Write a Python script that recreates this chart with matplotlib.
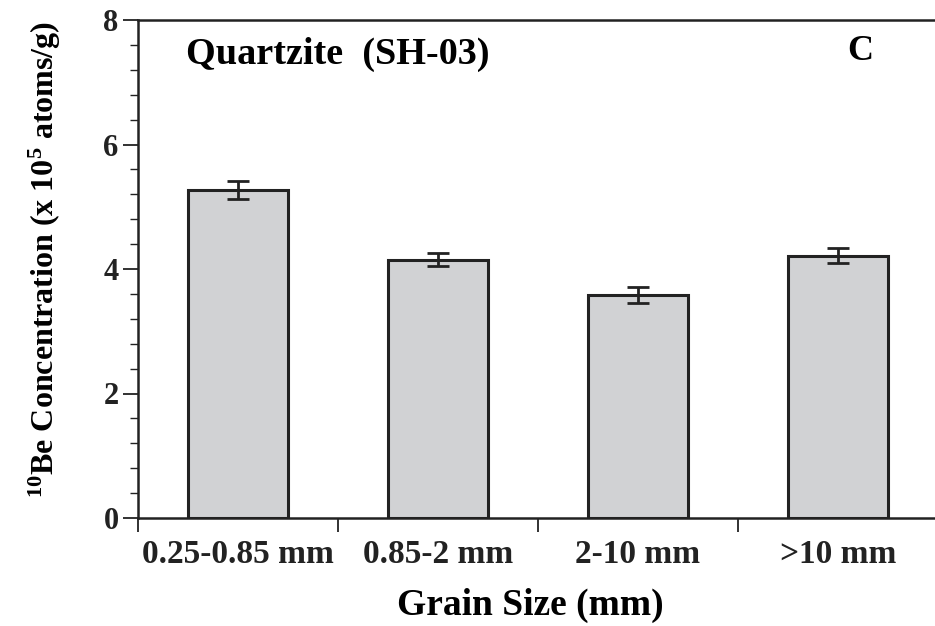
import matplotlib
matplotlib.use("Agg")
import matplotlib.pyplot as plt
from matplotlib.ticker import MultipleLocator, FixedLocator, NullFormatter, FixedFormatter

plt.rcParams['font.family'] = ['Liberation Serif', 'DejaVu Serif']
plt.rcParams['font.weight'] = 'bold'
plt.rcParams['mathtext.default'] = 'regular'

categories = ['0.25-0.85 mm', '0.85-2 mm', '2-10 mm', '>10 mm']
values = [5.27, 4.15, 3.58, 4.21]
errors = [0.14, 0.105, 0.13, 0.12]
title_text = 'Quartzite  (SH-03)'
panel_label = 'C'
xlabel = 'Grain Size (mm)'
ylabel = '$^{10}$Be Concentration (x 10$^{5}$ atoms/g)'

W, H = 935, 626
fig = plt.figure(figsize=(W / 100, H / 100), dpi=100)
left, right, top, bottom = 138, 938, 20, 518
ax = fig.add_axes([left / W, 1 - bottom / H, (right - left) / W, (bottom - top) / H])

dark = '#222222'
pos = list(range(1, len(categories) + 1))
ax.bar(pos, values, width=0.5, color='#d1d2d4', edgecolor=dark, linewidth=2.2, zorder=2)
ax.errorbar(pos, values, yerr=errors, fmt='none', ecolor=dark, elinewidth=2.0,
            capsize=8, capthick=2.0, zorder=3)

ax.set_xlim(0.5, len(categories) + 0.5)
ax.set_ylim(0, 8)

for s in ['left', 'bottom', 'top']:
    ax.spines[s].set_linewidth(1.8)
    ax.spines[s].set_color(dark)
ax.spines['right'].set_visible(False)

ax.yaxis.set_major_locator(MultipleLocator(2))
ax.yaxis.set_minor_locator(MultipleLocator(0.4))
ax.tick_params(axis='y', which='major', direction='out', length=11, width=1.3,
               labelsize=22, pad=3, colors=dark)
ax.tick_params(axis='y', which='minor', direction='out', length=6, width=1.0, colors=dark)

ax.xaxis.set_major_locator(FixedLocator([p - 0.5 for p in pos] + [len(pos) + 0.5]))
ax.xaxis.set_major_formatter(NullFormatter())
ax.xaxis.set_minor_locator(FixedLocator(pos))
ax.xaxis.set_minor_formatter(FixedFormatter(categories))
ax.tick_params(axis='x', which='major', direction='out', length=10, width=1.3, colors=dark)
ax.tick_params(axis='x', which='minor', length=0, labelsize=24, pad=15, colors=dark)
for lbl in ax.get_yticklabels() + ax.get_xticklabels(minor=True):
    lbl.set_fontweight('bold')

ax.text(0.06, 0.93, title_text, transform=ax.transAxes, fontsize=27.5,
        fontweight='bold', va='center', ha='left', color='black')
ax.text(0.9025, 0.936, panel_label, transform=ax.transAxes, fontsize=26,
        fontweight='bold', va='center', ha='center', color='black')

fig.text(530 / W, 1 - 605 / H, xlabel, fontsize=27, fontweight='bold',
         ha='center', va='center')
fig.text(45 / W, 1 - 259 / H, ylabel, fontsize=23, fontweight='bold',
         rotation=90, ha='center', va='center')

fig.savefig('out.png', dpi=100, facecolor='white')
